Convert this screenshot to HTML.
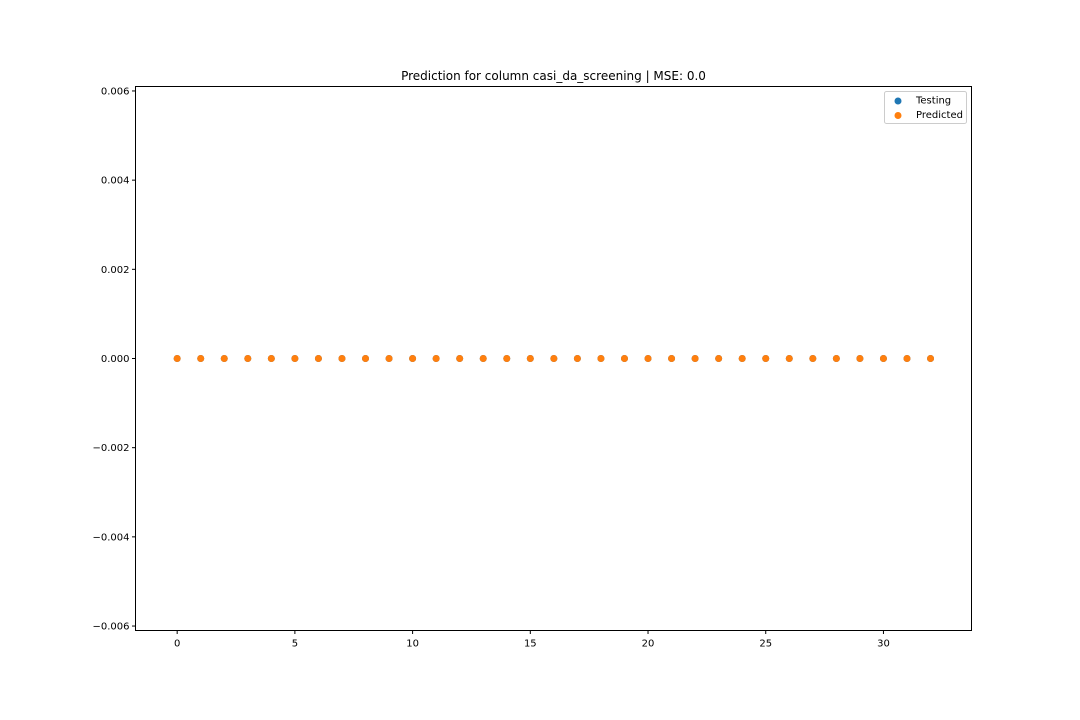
<!DOCTYPE html>
<html><head><meta charset="utf-8">
<style>
html,body{margin:0;padding:0;background:#fff;}
svg{display:block;font-family:"DejaVu Sans","Liberation Sans",sans-serif;}
</style></head>
<body>
<svg id="chart" width="1080" height="720" xmlns="http://www.w3.org/2000/svg">
<rect width="1080" height="720" fill="#fff"/>
<text x="553.5" y="80" text-anchor="middle" font-size="12">Prediction for column casi_da_screening | MSE: 0.0</text>
<g id="plot"></g>
<rect x="135.5" y="86.5" width="836" height="544" fill="none" stroke="#000" stroke-width="1"/>
<g>
<rect x="884.5" y="91.5" width="82" height="32" rx="2" fill="#fff" stroke="#ccc"/>
<circle cx="898" cy="101" r="3.5" fill="#1f77b4"/>
<text x="916" y="103.5" font-size="10">Testing</text>
<circle cx="898" cy="115.5" r="3.5" fill="#ff7f0e"/>
<text x="916" y="118" font-size="10">Predicted</text>
</g>
</svg>
<script>
const xValues = [0,1,2,3,4,5,6,7,8,9,10,11,12,13,14,15,16,17,18,19,20,21,22,23,24,25,26,27,28,29,30,31,32];
const testingValues = [0,0,0,0,0,0,0,0,0,0,0,0,0,0,0,0,0,0,0,0,0,0,0,0,0,0,0,0,0,0,0,0,0];
const predictedValues = [0,0,0,0,0,0,0,0,0,0,0,0,0,0,0,0,0,0,0,0,0,0,0,0,0,0,0,0,0,0,0,0,0];
const xTicks = [0,5,10,15,20,25,30];
const yTicks = [-0.006,-0.004,-0.002,0,0.002,0.004,0.006];
const yTickLabels = ["\u22120.006","\u22120.004","\u22120.002","0.000","0.002","0.004","0.006"];

const L=135.5,R=971.5,T=86.5,B=630.5;
const xMin=-1.77,xMax=33.74,yMin=-0.0061,yMax=0.0061;
function sx(v){return L+(v-xMin)/(xMax-xMin)*(R-L);}
function sy(v){return B-(v-yMin)/(yMax-yMin)*(B-T);}
const NS="http://www.w3.org/2000/svg";
const g=document.getElementById('plot');
function mk(tag,attrs){const e=document.createElementNS(NS,tag);for(const k in attrs)e.setAttribute(k,attrs[k]);g.appendChild(e);return e;}

xTicks.forEach(v=>{
  const x=sx(v);
  const t=mk('line',{x1:x,x2:x,y1:B,y2:B+3.5,stroke:'#000'});
  
  
  const l=mk('text',{x:x,y:B+16,'text-anchor':'middle','font-size':10});
  l.textContent=v;
  
  
});
yTicks.forEach((v,i)=>{
  const y=sy(v);
  const t=mk('line',{x1:L-3.5,x2:L,y1:y,y2:y,stroke:'#000'});
  
  
  const l=mk('text',{x:L-6,y:y+3.5,'text-anchor':'end','font-size':10});
  l.textContent=yTickLabels[i];
  
  
});
xValues.forEach((x,i)=>{
  const c=mk('circle',{cx:sx(x),cy:sy(testingValues[i]),r:3.5,fill:'#1f77b4'});
  
  
});
xValues.forEach((x,i)=>{
  const c=mk('circle',{cx:sx(x),cy:sy(predictedValues[i]),r:3.5,fill:'#ff7f0e'});
  
  
});
</script>
</body></html>
